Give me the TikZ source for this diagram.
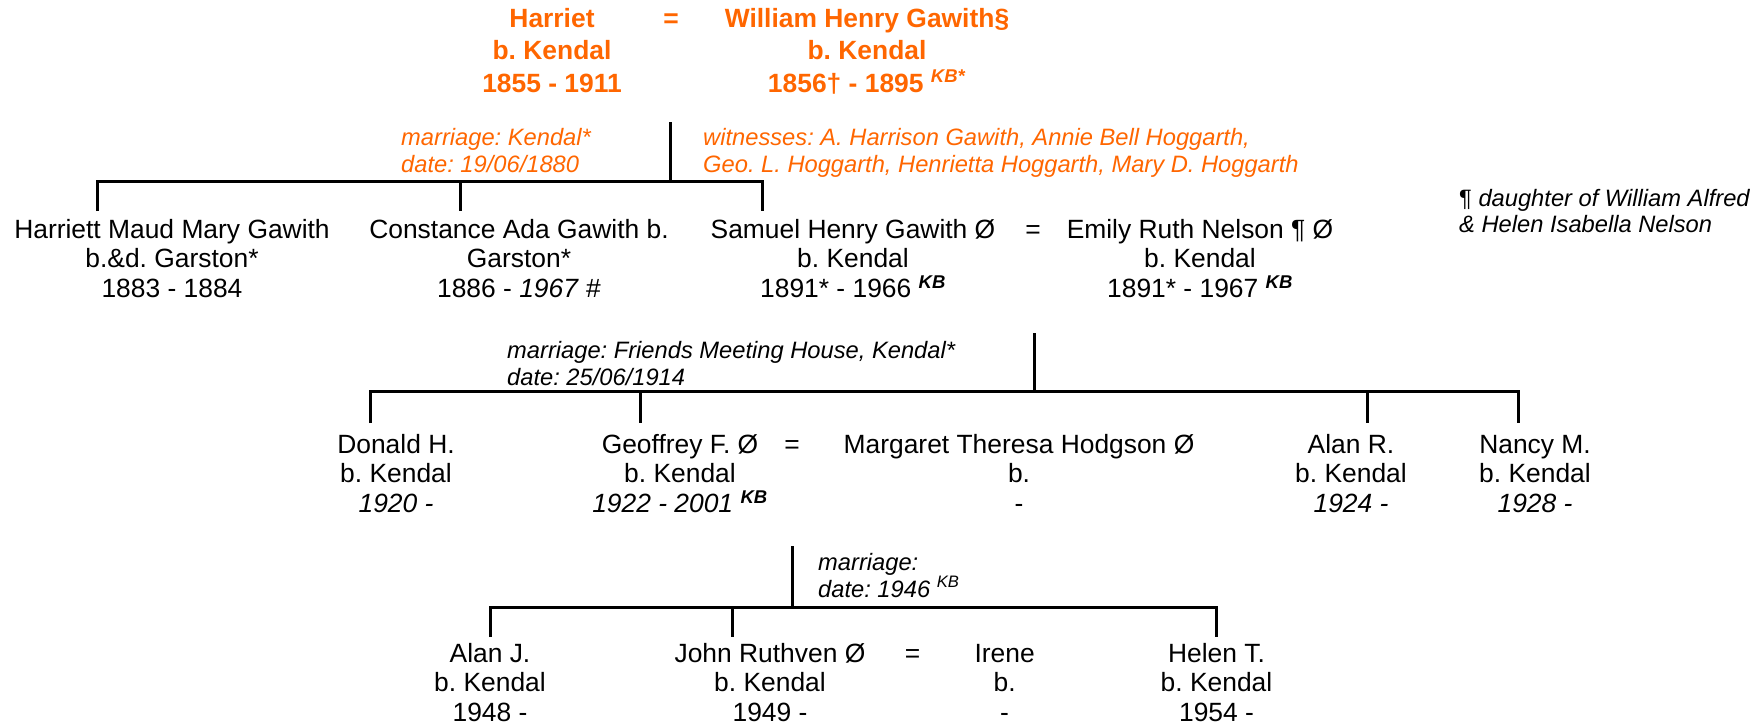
\documentclass[tikz,border=0pt]{standalone}
\usepackage{fontspec}
\setmainfont{Liberation Sans}
\definecolor{org}{RGB}{255,102,0}
\newcommand\mykb{\textsuperscript{\textbf{\textit{KB}}}}
\frenchspacing
\begin{document}
\begin{tikzpicture}[x=1pt,y=-1pt,
  person/.style={anchor=base, align=center, inner sep=0pt, font=\fontsize{26.4}{29.7}\selectfont},
  topp/.style={anchor=base, align=center, inner sep=0pt, text=org, font=\fontsize{26.4}{32.5}\selectfont\bfseries},
  note/.style={anchor=base west, align=left, inner sep=0pt, font=\fontsize{23.7}{26.7}\selectfont\itshape},
  link/.style={line width=3pt, line join=miter}]
\useasboundingbox (0,0) rectangle (1758,724);

% generation 0 (anchor = baseline of last line)
\node[topp] (harriet) at (552,92) {Harriet\\b. Kendal\\1855 - 1911};
\node[topp] (eq0) at (671,27) {=};
\node[topp] (william) at (867,92) {William Henry Gawith§\\b. Kendal\\1856† - 1895 \textsuperscript{\textit{KB*}}};
\node[note, text=org] (n1) at (401,172.5) {marriage: Kendal*\\date: 19/06/1880};
\node[note, text=org] (w1) at (703,172.5) {witnesses: A. Harrison Gawith, Annie Bell Hoggarth,\\Geo. L. Hoggarth, Henrietta Hoggarth, Mary D. Hoggarth};

% generation 1
\node[person] (hmm) at (172,297.4) {Harriett Maud Mary Gawith\\b.\&d. Garston*\\1883 - 1884};
\node[person] (cag) at (519,297.4) {Constance Ada Gawith b.\\Garston*\\1886 - \textit{1967} \#};
\node[person] (shg) at (853,297.4) {Samuel Henry Gawith Ø\\b. Kendal\\1891* - 1966 \mykb};
\node[person] (eq1) at (1033,238) {=};
\node[person] (ern) at (1200,297.4) {Emily Ruth Nelson ¶ Ø\\b. Kendal\\1891* - 1967 \mykb};
\node[note] (dn) at (1459,232.7) {{\upshape ¶} daughter of William Alfred\\\& Helen Isabella Nelson};
\node[note] (n2) at (507,385) {marriage: Friends Meeting House, Kendal*\\date: 25/06/1914};

% generation 2
\node[person] (don) at (396,512.4) {Donald H.\\b. Kendal\\\textit{1920 -}};
\node[person] (geo) at (680,512.4) {Geoffrey F. Ø\\b. Kendal\\\textit{1922 - 2001} \mykb};
\node[person] (eq2) at (792,453) {=};
\node[person] (mth) at (1019,512.4) {Margaret Theresa Hodgson Ø\\b.\\-};
\node[person] (alr) at (1351,512.4) {Alan R.\\b. Kendal\\\textit{1924 -}};
\node[person] (nan) at (1535,512.4) {Nancy M.\\b. Kendal\\\textit{1928 -}};
\node[note] (n3) at (818,597) {marriage:\\date: 1946 \textsuperscript{KB}};

% generation 3
\node[person] (alj) at (490,721.5) {Alan J.\\b. Kendal\\1948 -};
\node[person] (jrg) at (770,721.5) {John Ruthven Ø\\b. Kendal\\1949 -};
\node[person] (eq3) at (912.6,662.1) {=};
\node[person] (ire) at (1004.6,721.5) {Irene\\b.\\-};
\node[person] (hel) at (1216.5,721.5) {Helen T.\\b. Kendal\\1954 -};

% connectors generation 1
\coordinate (g1s) at (670,122);
\coordinate (g1b) at (670,181);
\coordinate (g1d1) at (97,211);
\coordinate (g1d2) at (460,211);
\coordinate (g1d3) at (762,211);
\draw[link] (g1s) -- (g1b);
\draw[link] (g1d1) -- (g1d1 |- g1b) -- (g1d3 |- g1b) -- (g1d3);
\draw[link] (g1d2 |- g1b) -- (g1d2);

% connectors generation 2
\coordinate (g2s) at (1034,333);
\coordinate (g2b) at (1034,391);
\coordinate (g2d1) at (370,423);
\coordinate (g2d2) at (640,423);
\coordinate (g2d3) at (1367,423);
\coordinate (g2d4) at (1518,423);
\draw[link] (g2s) -- (g2b);
\draw[link] (g2d1) -- (g2d1 |- g2b) -- (g2d4 |- g2b) -- (g2d4);
\draw[link] (g2d2 |- g2b) -- (g2d2);
\draw[link] (g2d3 |- g2b) -- (g2d3);

% connectors generation 3
\coordinate (g3s) at (792.7,546);
\coordinate (g3b) at (792.7,607);
\coordinate (g3d1) at (490,637);
\coordinate (g3d2) at (732,637);
\coordinate (g3d3) at (1216.5,637);
\draw[link] (g3s) -- (g3b);
\draw[link] (g3d1) -- (g3d1 |- g3b) -- (g3d3 |- g3b) -- (g3d3);
\draw[link] (g3d2 |- g3b) -- (g3d2);
\end{tikzpicture}
\end{document}
